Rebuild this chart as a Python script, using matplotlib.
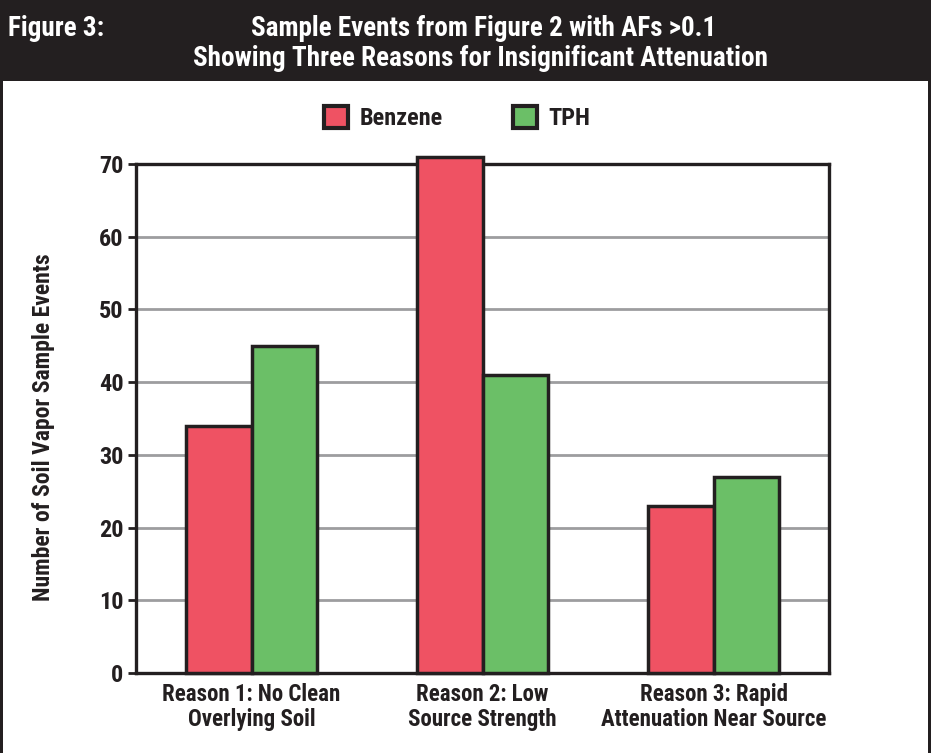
import matplotlib
matplotlib.use("Agg")
import matplotlib.pyplot as plt
from matplotlib import font_manager
from matplotlib.patches import Rectangle
import numpy as np

# Data
categories = ["Reason 1: No Clean\nOverlying Soil",
              "Reason 2: Low\nSource Strength",
              "Reason 3: Rapid\nAttenuation Near Source"]
benzene = [34, 71, 23]
tph = [45, 41, 27]
series_names = ["Benzene", "TPH"]
yticks = [0, 10, 20, 30, 40, 50, 60, 70]

RED = "#ef5263"
GREEN = "#6bbf67"
DARK = "#231f20"

available = {f.name for f in font_manager.fontManager.ttflist}
family = "DejaVu Sans"
for cand in ["Roboto Condensed", "Liberation Sans Narrow", "DejaVu Sans Condensed", "Liberation Sans"]:
    if cand in available:
        family = cand
        break
plt.rcParams["font.family"] = [family, "DejaVu Sans"]
plt.rcParams["font.weight"] = "bold"

W, H = 931, 753
fig = plt.figure(figsize=(W / 100, H / 100), dpi=100)
fig.patch.set_facecolor("white")

# Header band and panel border
fig.add_artist(Rectangle((0, 1 - 81 / H), 1, 81 / H, transform=fig.transFigure,
                         facecolor=DARK, edgecolor="none", zorder=0))
fig.add_artist(Rectangle((0, 0), 2.5 / W, 1, transform=fig.transFigure,
                         facecolor=DARK, edgecolor="none", zorder=0))
fig.add_artist(Rectangle((1 - 3 / W, 0), 3 / W, 1, transform=fig.transFigure,
                         facecolor=DARK, edgecolor="none", zorder=0))

fig.text(8 / W, 1 - 29 / H, "Figure 3:", color="white", fontsize=19.5,
         fontweight="bold", ha="left", va="center")
fig.text(484 / W, 1 - 29 / H, "Sample Events from Figure 2 with AFs >0.1",
         color="white", fontsize=19.5, fontweight="bold", ha="center", va="center")
fig.text(480 / W, 1 - 59 / H, "Showing Three Reasons for Insignificant Attenuation",
         color="white", fontsize=19.5, fontweight="bold", ha="center", va="center")

# Plot area
left, right, top, bottom = 136, 829, 164, 673
ax = fig.add_axes([left / W, 1 - bottom / H, (right - left) / W, (bottom - top) / H])
x = np.arange(len(categories))
bw = 0.285
ax.bar(x - bw / 2, benzene, width=bw, color=RED, edgecolor=DARK, linewidth=2.5,
       zorder=3, label=series_names[0], clip_on=False)
ax.bar(x + bw / 2, tph, width=bw, color=GREEN, edgecolor=DARK, linewidth=2.5,
       zorder=3, label=series_names[1], clip_on=False)

ax.set_xlim(-0.5, 2.5)
ax.set_ylim(0, 70)
ax.set_yticks(yticks)
ax.set_yticklabels([str(v) for v in yticks], fontsize=17.5, fontweight="bold", color=DARK)
ax.set_xticks(x)
ax.set_xticklabels(categories, fontsize=16.5, fontweight="bold", color=DARK,
                   linespacing=1.1)
ax.tick_params(axis="y", length=6, width=2, color=DARK, pad=3)
ax.tick_params(axis="x", length=0, pad=7)
ax.yaxis.grid(True, color="#9d9d9f", linewidth=2, zorder=1)
for s in ax.spines.values():
    s.set_color(DARK)
    s.set_linewidth(2.4)
    s.set_zorder(2.5)
ax.set_ylabel("Number of Soil Vapor Sample Events", fontsize=17, fontweight="bold",
              color=DARK)
ax.yaxis.set_label_coords(-(136 - 55) / (right - left), 0.5 - 9 / (bottom - top))

# Legend drawn as square swatches
leg = fig.legend(loc="center", bbox_to_anchor=(457 / W, 1 - 118 / H), ncol=2,
                 frameon=False, fontsize=17.5, handlelength=1.0, handleheight=1.0,
                 handletextpad=0.45, columnspacing=2.9)
for t in leg.get_texts():
    t.set_color(DARK)
    t.set_fontweight("bold")
for h in leg.legend_handles:
    h.set_linewidth(3)

fig.savefig("out.png", dpi=100, facecolor="white")
